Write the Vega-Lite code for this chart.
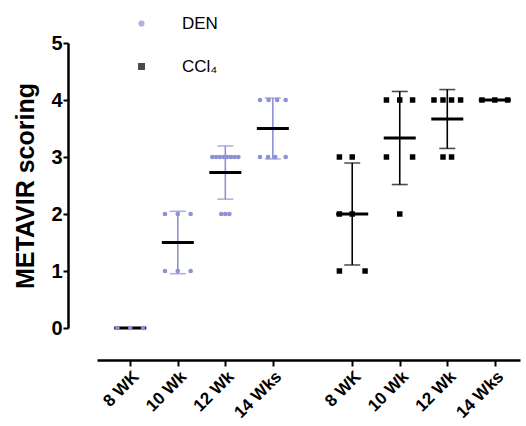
{
  "$schema": "https://vega.github.io/schema/vega-lite/v6.json",
  "autosize": "none",
  "width": 423,
  "height": 285,
  "padding": {"left": 97, "top": 43, "right": 6, "bottom": 98},
  "background": "white",
  "config": {
    "view": {"stroke": null},
    "font": "Liberation Sans",
    "axis": {"grid": false, "domainColor": "black", "tickColor": "black", "labelColor": "black", "titleColor": "black", "labelFont": "Liberation Sans", "titleFont": "Liberation Sans"},
    "axisX": {"offset": 32, "domainWidth": 2.5, "tickSize": 6, "tickWidth": 2, "labelAngle": -45, "labelFontSize": 17, "labelFontWeight": "bold", "labelPadding": 2, "labelOverlap": false},
    "axisY": {"offset": 29, "domainWidth": 2.5, "tickSize": 5, "tickWidth": 2, "labelFontSize": 20, "labelFontWeight": "bold", "labelPadding": 1, "titleFontSize": 25, "titleFontWeight": "bold", "titlePadding": 12}
  },
  "data": {
    "values": [
      {"group": "DEN", "week": "8 WK", "slot": 1, "xpos": 0.73, "score": 0},
      {"group": "DEN", "week": "8 WK", "slot": 1, "xpos": 1.0, "score": 0},
      {"group": "DEN", "week": "8 WK", "slot": 1, "xpos": 1.27, "score": 0},
      {"group": "DEN", "week": "10 Wk", "slot": 2, "xpos": 1.73, "score": 2},
      {"group": "DEN", "week": "10 Wk", "slot": 2, "xpos": 2.0, "score": 2},
      {"group": "DEN", "week": "10 Wk", "slot": 2, "xpos": 2.27, "score": 2},
      {"group": "DEN", "week": "10 Wk", "slot": 2, "xpos": 1.73, "score": 1},
      {"group": "DEN", "week": "10 Wk", "slot": 2, "xpos": 2.0, "score": 1},
      {"group": "DEN", "week": "10 Wk", "slot": 2, "xpos": 2.27, "score": 1},
      {"group": "DEN", "week": "12 Wk", "slot": 3, "xpos": 2.725, "score": 3},
      {"group": "DEN", "week": "12 Wk", "slot": 3, "xpos": 2.804, "score": 3},
      {"group": "DEN", "week": "12 Wk", "slot": 3, "xpos": 2.882, "score": 3},
      {"group": "DEN", "week": "12 Wk", "slot": 3, "xpos": 2.961, "score": 3},
      {"group": "DEN", "week": "12 Wk", "slot": 3, "xpos": 3.039, "score": 3},
      {"group": "DEN", "week": "12 Wk", "slot": 3, "xpos": 3.118, "score": 3},
      {"group": "DEN", "week": "12 Wk", "slot": 3, "xpos": 3.196, "score": 3},
      {"group": "DEN", "week": "12 Wk", "slot": 3, "xpos": 3.275, "score": 3},
      {"group": "DEN", "week": "12 Wk", "slot": 3, "xpos": 2.915, "score": 2},
      {"group": "DEN", "week": "12 Wk", "slot": 3, "xpos": 3.0, "score": 2},
      {"group": "DEN", "week": "12 Wk", "slot": 3, "xpos": 3.085, "score": 2},
      {"group": "DEN", "week": "14 Wks", "slot": 4, "xpos": 3.73, "score": 4},
      {"group": "DEN", "week": "14 Wks", "slot": 4, "xpos": 3.91, "score": 4},
      {"group": "DEN", "week": "14 Wks", "slot": 4, "xpos": 4.09, "score": 4},
      {"group": "DEN", "week": "14 Wks", "slot": 4, "xpos": 4.27, "score": 4},
      {"group": "DEN", "week": "14 Wks", "slot": 4, "xpos": 3.73, "score": 3},
      {"group": "DEN", "week": "14 Wks", "slot": 4, "xpos": 3.9, "score": 3},
      {"group": "DEN", "week": "14 Wks", "slot": 4, "xpos": 4.05, "score": 3},
      {"group": "DEN", "week": "14 Wks", "slot": 4, "xpos": 4.27, "score": 3},
      {"group": "CCl₄", "week": "8 WK", "slot": 5.67, "xpos": 5.4, "score": 3},
      {"group": "CCl₄", "week": "8 WK", "slot": 5.67, "xpos": 5.67, "score": 3},
      {"group": "CCl₄", "week": "8 WK", "slot": 5.67, "xpos": 5.4, "score": 2},
      {"group": "CCl₄", "week": "8 WK", "slot": 5.67, "xpos": 5.67, "score": 2},
      {"group": "CCl₄", "week": "8 WK", "slot": 5.67, "xpos": 5.4, "score": 1},
      {"group": "CCl₄", "week": "8 WK", "slot": 5.67, "xpos": 5.94, "score": 1},
      {"group": "CCl₄", "week": "10 Wk", "slot": 6.67, "xpos": 6.39, "score": 4},
      {"group": "CCl₄", "week": "10 Wk", "slot": 6.67, "xpos": 6.67, "score": 4},
      {"group": "CCl₄", "week": "10 Wk", "slot": 6.67, "xpos": 6.94, "score": 4},
      {"group": "CCl₄", "week": "10 Wk", "slot": 6.67, "xpos": 6.39, "score": 3},
      {"group": "CCl₄", "week": "10 Wk", "slot": 6.67, "xpos": 6.94, "score": 3},
      {"group": "CCl₄", "week": "10 Wk", "slot": 6.67, "xpos": 6.67, "score": 2},
      {"group": "CCl₄", "week": "12 Wk", "slot": 7.67, "xpos": 7.39, "score": 4},
      {"group": "CCl₄", "week": "12 Wk", "slot": 7.67, "xpos": 7.58, "score": 4},
      {"group": "CCl₄", "week": "12 Wk", "slot": 7.67, "xpos": 7.76, "score": 4},
      {"group": "CCl₄", "week": "12 Wk", "slot": 7.67, "xpos": 7.95, "score": 4},
      {"group": "CCl₄", "week": "12 Wk", "slot": 7.67, "xpos": 7.58, "score": 3},
      {"group": "CCl₄", "week": "12 Wk", "slot": 7.67, "xpos": 7.76, "score": 3},
      {"group": "CCl₄", "week": "14 Wks", "slot": 8.67, "xpos": 8.4, "score": 4},
      {"group": "CCl₄", "week": "14 Wks", "slot": 8.67, "xpos": 8.67, "score": 4},
      {"group": "CCl₄", "week": "14 Wks", "slot": 8.67, "xpos": 8.94, "score": 4}
    ]
  },
  "layer": [
    {
      "mark": {"type": "errorbar", "extent": "stdev", "orient": "vertical", "ticks": {"size": 16, "thickness": 1.6}, "rule": {"strokeWidth": 1.6}},
      "encoding": {
        "x": {
          "field": "slot", "type": "quantitative",
          "scale": {"domain": [0.3, 9.2], "nice": false, "zero": false},
          "axis": {
            "title": null,
            "values": [1, 2, 3, 4, 5.67, 6.67, 7.67, 8.67],
            "labelExpr": "round(datum.value) == 1 || round(datum.value) == 6 ? '8 WK' : (round(datum.value) == 2 || round(datum.value) == 7 ? '10 Wk' : (round(datum.value) == 3 || round(datum.value) == 8 ? '12 Wk' : '14 Wks'))"
          }
        },
        "y": {
          "field": "score", "type": "quantitative",
          "scale": {"domain": [0, 5], "nice": false},
          "axis": {"title": "METAVIR scoring", "values": [0, 1, 2, 3, 4, 5], "format": "d"}
        },
        "color": {
          "field": "group", "type": "nominal",
          "scale": {"domain": ["DEN", "CCl₄"], "range": ["#8e92d4", "#000000"]}
        }
      }
    },
    {
      "mark": {"type": "tick", "orient": "horizontal", "size": 32, "thickness": 3, "color": "black"},
      "encoding": {
        "x": {"field": "slot", "type": "quantitative", "axis": {"title": null}},
        "y": {"aggregate": "mean", "field": "score", "type": "quantitative", "axis": {"title": "METAVIR scoring"}},
        "detail": {"field": "group", "type": "nominal"}
      }
    },
    {
      "mark": {"type": "point", "filled": true, "opacity": 1},
      "encoding": {
        "x": {"field": "xpos", "type": "quantitative", "axis": {"title": null}},
        "y": {"field": "score", "type": "quantitative", "axis": {"title": "METAVIR scoring"}},
        "color": {
          "field": "group", "type": "nominal",
          "legend": {
            "title": null,
            "orient": "none",
            "legendX": 36,
            "legendY": -28,
            "padding": 0,
            "labelFontSize": 17,
            "labelFont": "Liberation Sans",
            "labelColor": "black",
            "labelOffset": 32,
            "rowPadding": 25,
            "symbolSize": 25,
            "symbolOpacity": 1
          }
        },
        "shape": {
          "field": "group", "type": "nominal",
          "scale": {"domain": ["DEN", "CCl₄"], "range": ["circle", "square"]},
          "legend": {
            "title": null,
            "orient": "none",
            "legendX": 36,
            "legendY": -28,
            "padding": 0,
            "labelFontSize": 17,
            "labelFont": "Liberation Sans",
            "labelColor": "black",
            "labelOffset": 32,
            "rowPadding": 25,
            "symbolSize": 25,
            "symbolOpacity": 1
          }
        },
        "size": {
          "field": "group", "type": "nominal",
          "scale": {"domain": ["DEN", "CCl₄"], "range": [22, 30]},
          "legend": null
        }
      }
    }
  ]
}
